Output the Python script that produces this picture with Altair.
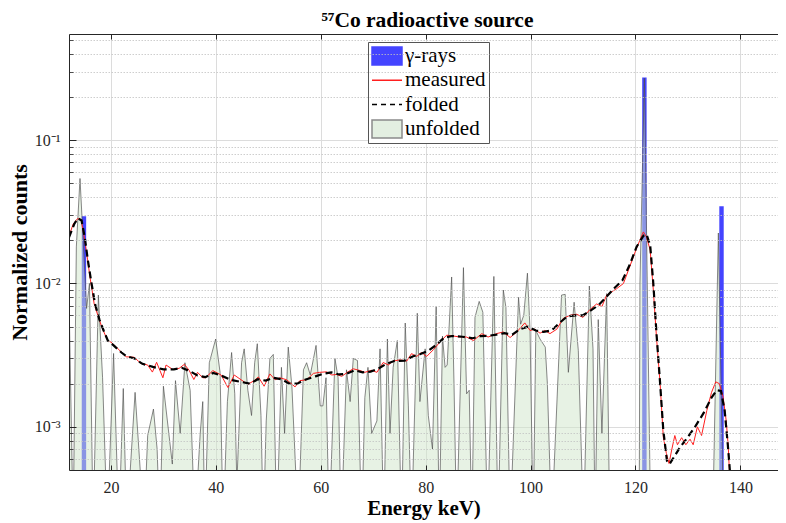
import altair as alt
import pandas as pd

# ---------------- data ----------------
B = 2e-4      # unfolded values that fall below the visible axis range
BASE = 1e-6   # baseline for area / bars on the log axis

gamma_E = [14.85, 121.7, 136.4]
gamma_v = [0.0295, 0.274, 0.0346]

meas_E = [12.0, 12.8, 13.65, 14.3, 14.9, 15.55, 16.0, 16.8, 17.8, 18.5, 19.4, 20.0,
          21.0, 21.9, 22.9, 24.4, 25.7, 27.0, 27.9, 28.7, 29.9, 30.5, 31.8, 33.0,
          34.0, 34.9, 35.8, 36.5, 37.5, 38.1, 39.4, 41.0, 42.3, 43.5, 44.8, 46.1,
          47.3, 48.1, 49.2, 50.3, 51.3, 52.2, 53.5, 55.1, 56.0, 57.3, 58.6, 59.8,
          61.1, 62.1, 63.0, 64.0, 65.2, 66.2, 67.5, 68.4, 69.7, 70.7, 71.9, 72.9,
          73.8, 75.1, 76.4, 77.3, 78.3, 79.2, 80.2, 81.5, 82.7, 84.0, 85.3, 86.2,
          87.8, 89.1, 90.7, 91.9, 93.5, 94.8, 96.1, 97.4, 98.9, 99.9, 100.8, 101.8,
          102.7, 103.7, 105.0, 106.2, 107.5, 108.8, 110.0, 111.3, 112.6, 113.6, 114.5,
          116.4, 117.7, 118.9, 120.2, 121.5, 122.1, 122.8, 123.4, 124.0, 124.7, 125.3,
          125.9, 126.4, 126.9, 127.5, 128.0, 128.8, 129.6, 130.4, 131.0, 131.8, 132.6,
          133.6, 134.5, 135.3, 136.0, 136.7, 137.3, 137.7, 138.0]
meas_v = [0.0214, 0.026, 0.0284, 0.0277, 0.0211, 0.0146, 0.0111, 0.0072, 0.00554, 0.00472, 0.00398, 0.0039,
          0.00361, 0.00334, 0.00308, 0.00306, 0.00277, 0.0027, 0.00241, 0.00282, 0.0022, 0.0027, 0.00251, 0.00256,
          0.00273, 0.00248, 0.00214, 0.0024, 0.0022, 0.0022, 0.00247, 0.0023, 0.00188, 0.0023, 0.00213, 0.00198,
          0.0021, 0.00223, 0.00192, 0.00234, 0.00213, 0.0022, 0.00213, 0.0019, 0.0021, 0.00213, 0.00236, 0.0024,
          0.00242, 0.0023, 0.00232, 0.00225, 0.00242, 0.00254, 0.00247, 0.0024, 0.00248, 0.0024, 0.00281, 0.0027,
          0.00288, 0.00293, 0.00288, 0.00324, 0.0031, 0.0033, 0.0031, 0.00346, 0.0039, 0.00436, 0.0043, 0.00425,
          0.00423, 0.004, 0.00447, 0.00423, 0.00447, 0.00459, 0.0042, 0.0046, 0.00531, 0.0047, 0.0048, 0.0045,
          0.0047, 0.00447, 0.0048, 0.0057, 0.006, 0.0061, 0.0058, 0.00657, 0.0072, 0.0069, 0.0083,
          0.0092, 0.01, 0.0131, 0.0176, 0.0229, 0.0211, 0.0171, 0.009, 0.00424, 0.002, 0.00085,
          0.00065, 0.000555, 0.00069, 0.00087, 0.00075, 0.00084, 0.00075, 0.00082, 0.00075, 0.001, 0.00087,
          0.0013, 0.00174, 0.00206, 0.002, 0.00162, 0.0011, 0.00072, 0.0004]

fold_E = [12.0, 13.0, 13.7, 14.4, 15.0, 15.6, 16.2, 17.0, 17.8, 18.6, 19.4, 20.5, 22.0, 23.0,
          24.5, 26.0, 28.0, 30.0, 32.0, 33.5, 35.0, 36.5, 38.0, 39.5, 41.0, 43.0, 45.0, 46.5,
          48.0, 49.5, 51.0, 52.5, 54.0, 55.5, 57.0, 59.0, 60.5, 62.0, 63.5, 65.0, 66.5, 68.0,
          69.5, 71.0, 72.5, 74.0, 76.0, 77.5, 79.0, 80.5, 82.0, 83.5, 85.0, 87.0, 89.0, 90.5,
          92.0, 93.5, 95.0, 96.5, 98.0, 99.5, 101.0, 102.5, 104.0, 105.5, 107.0, 108.5, 110.0,
          111.5, 113.0, 114.5, 116.0, 117.5, 118.9, 120.2, 121.5, 122.1, 122.8, 123.4, 124.0,
          124.7, 125.3, 126.0, 126.5, 127.5, 128.5, 130.0, 131.5, 133.0, 134.5, 135.5, 136.3,
          137.0, 137.6, 138.2]
fold_v = [0.021, 0.026, 0.0285, 0.0275, 0.021, 0.0145, 0.0105, 0.0071, 0.0056, 0.0047, 0.004, 0.0037, 0.0033, 0.0031,
          0.003, 0.00275, 0.00262, 0.00252, 0.00252, 0.00258, 0.00245, 0.00228, 0.00222, 0.00238, 0.00228, 0.00212, 0.00205, 0.002,
          0.00215, 0.0021, 0.0022, 0.00215, 0.002, 0.002, 0.00213, 0.00225, 0.00235, 0.0024, 0.00232, 0.00235, 0.00248, 0.0024,
          0.00243, 0.00255, 0.00275, 0.00288, 0.0029, 0.0031, 0.00322, 0.0034, 0.00372, 0.00418, 0.0043, 0.00425, 0.00415, 0.0043,
          0.00432, 0.0044, 0.0045, 0.0044, 0.0048, 0.005, 0.0047, 0.0046, 0.0047, 0.0053, 0.0059, 0.006, 0.006,
          0.0065, 0.0071, 0.0081, 0.0093, 0.0105, 0.0135, 0.018, 0.0215, 0.022, 0.0185, 0.01, 0.0045,
          0.002, 0.00095, 0.00058, 0.00055, 0.00063, 0.00072, 0.00085, 0.00102, 0.00125, 0.0016, 0.0018, 0.00178,
          0.0013, 0.00075, 0.0004]

unf_E = [12.0, 12.8, 13.4, 14.1, 14.7, 15.35, 15.9, 16.6, 17.6, 18.4, 19.3, 20.5, 21.5, 22.35,
         23.0, 24.6, 26.3, 27.0, 28.1, 28.8, 29.3, 30.0, 31.7, 32.3, 33.2, 34.1, 35.1, 36.0,
         37.0, 37.5, 37.9, 38.75, 39.96, 40.8, 41.4, 42.2, 43.0, 43.6, 44.0, 44.9, 45.4, 46.1,
         46.8, 47.4, 47.9, 48.6, 49.05, 49.6, 50.3, 50.95, 51.6, 52.5, 53.1, 53.8, 54.5, 55.7,
         56.7, 57.3, 58.0, 59.1, 59.9, 60.4, 61.0, 61.6, 62.7, 63.3, 63.9, 64.9, 65.6, 66.2,
         67.0, 67.8, 68.4, 69.0, 69.7, 70.7, 71.3, 72.0, 72.7, 73.2, 73.8, 74.6, 75.4, 76.1,
         76.7, 77.3, 78.4, 78.9, 79.9, 80.5, 81.3, 82.0, 82.6, 83.2, 83.7, 84.1, 84.95, 85.4,
         85.9, 87.2, 87.8, 88.3, 88.8, 89.4, 90.2, 90.9, 91.8, 93.0, 93.8, 94.8, 95.3, 96.1,
         97.7, 98.1, 98.7, 99.4, 99.9, 100.5, 101.0, 101.8, 102.8, 103.2, 104.0, 105.9, 106.6,
         107.2, 108.3, 109.1, 110.1, 111.2, 111.9, 112.3, 112.9, 113.6, 114.5, 115.1, 120.7,
         120.85, 121.7, 122.9, 134.7, 135.8, 136.8, 140.0]
unf_v = [0.0081, B, 0.018, 0.054, 0.02, 0.0067, 0.01, B, 0.0083, 0.0022, B, 0.00325, B, 0.00185,
         B, 0.00174, B, 0.00087, 0.00133, 0.0007, B, 0.00192, 0.00055, 0.0021, 0.0009, 0.0028, 0.0018, B,
         0.00088, 0.0015, B, 0.0028, 0.0041, 0.0024, B, 0.0015, 0.0033, 0.0017, 0.0004, 0.0028, 0.0035, 0.0018,
         0.0012, 0.0028, 0.0038, 0.0012, B, 0.0011, 0.003, 0.0032, B, 0.0026, 0.0009, 0.0036, 0.0019, B,
         0.0025, 0.0028, 0.0023, 0.0037, 0.0014, 0.0014, 0.0022, B, 0.003, 0.0022, B, 0.0025, 0.0015, 0.003,
         0.0029, B, 0.0016, 0.0026, 0.0009, 0.0011, 0.0035, B, 0.0041, 0.0009, 0.0026, 0.004, B, 0.0053,
         0.0014, B, 0.0062, 0.0015, 0.0035, 0.0012, 0.0007, 0.0069, B, 0.0043, 0.0026, 0.0027, 0.0111, 0.002,
         B, 0.0129, 0.0017, 0.0018, B, 0.0058, 0.0075, 0.0063, B, 0.0112, B, 0.009, 0.0068, B,
         0.008, 0.0052, 0.006, 0.0118, 0.0047, B, 0.0047, 0.0041, 0.0036, 0.002, B, 0.0083, 0.0084,
         0.0024, 0.0074, 0.0034, B, 0.0096, 0.0035, B, 0.0056, 0.0009, 0.0085, B, B,
         0.01, 0.27, B, B, 0.0225, B, B]

x_ticks = [20, 40, 60, 80, 100, 120, 140]
y_major = [1e-3, 1e-2, 1e-1]
y_minor = [6e-4, 7e-4, 8e-4, 9e-4,
           2e-3, 3e-3, 4e-3, 5e-3, 6e-3, 7e-3, 8e-3, 9e-3,
           2e-2, 3e-2, 4e-2, 5e-2, 6e-2, 7e-2, 8e-2, 9e-2,
           0.2, 0.3, 0.4, 0.5]
legend_labels = ["γ-rays", "measured", "folded", "unfolded"]

# ---------------- tables ----------------
BAR_HALF = 0.42
gam_df = pd.DataFrame({"lo": [e - BAR_HALF for e in gamma_E],
                       "hi": [e + BAR_HALF for e in gamma_E],
                       "v": gamma_v, "base": BASE})
meas_df = pd.DataFrame({"E": meas_E, "v": meas_v})
fold_df = pd.DataFrame({"E": fold_E, "v": fold_v})
unf_df = pd.DataFrame({"E": unf_E, "v": unf_v, "base": BASE})
leg_df = pd.DataFrame({"series": legend_labels, "E": 0.0, "v": 0.01})

# ---------------- styling ----------------
FONT = "Liberation Serif"
AX = "#262626"
xs = alt.Scale(domain=[12, 147.17], nice=False, zero=False)
ys = alt.Scale(type="log", domain=[5e-4, 0.55], nice=False)

y_label_expr = "datum.value < 0.005 ? '10⁻³' : datum.value < 0.05 ? '10⁻²' : '10⁻¹'"

x_main = alt.Axis(values=x_ticks, orient="bottom", title="Energy keV)", grid=True,
                  gridColor="#dcdcdc", gridWidth=1, ticks=False, tickSize=0, domain=False,
                  labelFont=FONT, labelFontSize=16, labelColor=AX, labelPadding=9,
                  titleFont=FONT, titleFontSize=21, titleFontWeight="bold", titleColor="#000",
                  titlePadding=2)
y_main = alt.Axis(values=y_major, orient="left", title="Normalized counts", grid=True,
                  gridColor="#dcdcdc", gridWidth=1.2, ticks=False, tickSize=0, domain=False,
                  labelExpr=y_label_expr, labelFont=FONT, labelFontSize=16, labelColor=AX,
                  labelPadding=9, titleFont=FONT, titleFontSize=22, titleFontWeight="bold",
                  titleColor="#000", titlePadding=3)
x_bot_ticks = alt.Axis(values=x_ticks, orient="bottom", offset=-5, tickSize=5, tickColor=AX,
                       labels=False, domain=False, grid=False, title=None, zindex=1)
y_major_ticks = alt.Axis(values=y_major, orient="left", offset=-7, tickSize=7, tickColor=AX,
                         labels=False, domain=False, grid=False, title=None, zindex=1)
x_top_domain = alt.Axis(values=x_ticks, orient="top", ticks=False, labels=False, domain=True,
                        domainColor=AX, grid=False, title=None, zindex=1)
y_minor_axis = alt.Axis(values=y_minor, orient="left", offset=-4, tickSize=4, tickColor=AX,
                        tickWidth=0.8, labels=False, domain=False, grid=True,
                        gridColor="#c2c2c2", gridDash=[1.5, 1.5], gridWidth=0.8, title=None,
                        zindex=1)
x_top_ticks = alt.Axis(values=x_ticks, orient="top", offset=-5, tickSize=5, tickColor=AX,
                       labels=False, domain=False, grid=False, title=None, zindex=1)
x_bot_domain = alt.Axis(values=x_ticks, orient="bottom", ticks=False, labels=False, domain=True,
                        domainColor=AX, grid=False, title=None, zindex=1)
y_left_domain = alt.Axis(values=y_major, orient="left", ticks=False, labels=False, domain=True,
                         domainColor=AX, grid=False, title=None, zindex=1)

RECT = "M-1,-0.6L1,-0.6L1,0.6L-1,0.6Z"
LINE = "M-1,0L1,0"

bars = alt.Chart(gam_df).mark_rect(clip=True, color="#4444ff").encode(
    x=alt.X("lo:Q", scale=xs, axis=x_bot_ticks), x2="hi:Q",
    y=alt.Y("v:Q", scale=ys, axis=y_major_ticks), y2="base:Q")

area = alt.Chart(unf_df).mark_area(clip=True, fill="#cfe6ca", fillOpacity=0.5,
                                   stroke="#4d4d4d", strokeWidth=0.9, strokeOpacity=0.75).encode(
    x=alt.X("E:Q", scale=xs, axis=x_main),
    y=alt.Y("v:Q", scale=ys, axis=y_main), y2="base:Q")

meas = alt.Chart(meas_df).mark_line(clip=True, color="#ff1f1f", strokeWidth=1).encode(
    x=alt.X("E:Q", scale=xs, axis=x_top_domain),
    y=alt.Y("v:Q", scale=ys, axis=y_minor_axis))

fold = alt.Chart(fold_df).mark_line(clip=True, color="#000000", strokeWidth=2.2,
                                    strokeDash=[7, 4]).encode(
    x=alt.X("E:Q", scale=xs, axis=x_top_ticks),
    y=alt.Y("v:Q", scale=ys, axis=None))

leg = alt.Chart(leg_df).mark_point(filled=True, opacity=1, clip=True, size=900).encode(
    x=alt.X("E:Q", scale=xs, axis=x_bot_domain),
    y=alt.Y("v:Q", scale=ys, axis=y_left_domain),
    fill=alt.Fill("series:N",
                  scale=alt.Scale(domain=legend_labels,
                                  range=["#4444ff", "transparent", "transparent", "#e3efe1"]),
                  legend=alt.Legend(title=None, orient="none", legendX=299, legendY=8,
                                    direction="vertical", labelFont=FONT, labelFontSize=21,
                                    labelColor="#000", padding=3, rowPadding=2.3,
                                    clipHeight=22, symbolSize=900, symbolStrokeWidth=1.5,
                                    labelOffset=2, symbolOffset=0, strokeColor="#555555",
                                    fillColor="white", labelLimit=300)),
    stroke=alt.Stroke("series:N",
                      scale=alt.Scale(domain=legend_labels,
                                      range=["#4444ff", "#ff1f1f", "#000000", "#8a8a8a"]),
                      legend=alt.Legend(title=None)),
    shape=alt.Shape("series:N",
                    scale=alt.Scale(domain=legend_labels, range=[RECT, LINE, LINE, RECT]),
                    legend=alt.Legend(title=None)),
    strokeDash=alt.StrokeDash("series:N",
                              scale=alt.Scale(domain=legend_labels,
                                              range=[[100, 0], [100, 0], [5, 4], [100, 0]]),
                              legend=alt.Legend(title=None)),
)

chart = alt.layer(bars, area, meas, fold, leg).resolve_axis(
    x="independent", y="independent"
).properties(
    width=709, height=436,
    title=alt.TitleParams(text="⁵⁷Co radioactive source", font=FONT, fontSize=21.5,
                          fontWeight="bold", color="#000", anchor="middle", frame="group",
                          offset=2, dx=4),
    padding={"left": 61, "top": 26, "right": 0, "bottom": 50},
    autosize=alt.AutoSizeParams(type="none"),
).configure_view(stroke=None).configure(background="white")

chart.save("out.html", embed_options={"renderer": "svg", "actions": False})
